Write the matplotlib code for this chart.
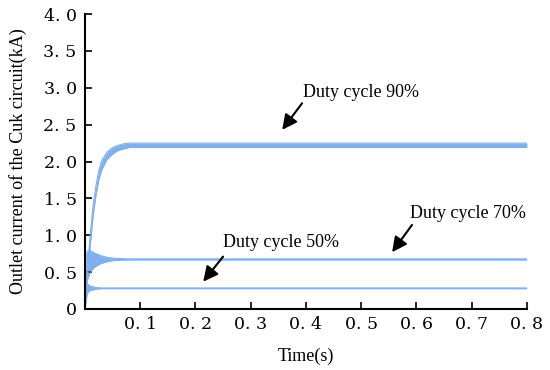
import matplotlib.pyplot as plt

# time points (s) and upper / lower envelopes of the current ripple (kA)
t90 = [0, 0.003, 0.006, 0.01, 0.015, 0.02, 0.025, 0.03, 0.04, 0.05, 0.06, 0.07, 0.08, 0.1, 0.8]
up90 = [0, 0.35, 0.7, 1.05, 1.42, 1.68, 1.88, 2.01, 2.13, 2.19, 2.22, 2.24, 2.25, 2.25, 2.25]
lo90 = [0, 0.25, 0.55, 0.9, 1.28, 1.55, 1.75, 1.88, 2.03, 2.1, 2.15, 2.17, 2.19, 2.19, 2.19]

t70 = [0, 0.002, 0.004, 0.007, 0.01, 0.015, 0.02, 0.03, 0.04, 0.05, 0.06, 0.08, 0.8]
up70 = [0, 0.72, 0.78, 0.8, 0.79, 0.77, 0.75, 0.72, 0.70, 0.69, 0.685, 0.68, 0.68]
lo70 = [0, 0.2, 0.38, 0.45, 0.5, 0.55, 0.58, 0.62, 0.64, 0.655, 0.66, 0.665, 0.665]

t50 = [0, 0.002, 0.004, 0.007, 0.01, 0.015, 0.02, 0.03, 0.8]
up50 = [0, 0.5, 0.35, 0.32, 0.31, 0.30, 0.29, 0.285, 0.285]
lo50 = [0, 0.1, 0.2, 0.24, 0.25, 0.26, 0.27, 0.275, 0.275]

# labels: text position, arrow tail, arrow head
labels = ['Duty cycle 90%', 'Duty cycle 70%', 'Duty cycle 50%']
text_xy = [(0.395, 2.94), (0.588, 1.30), (0.25, 0.895)]
tail_xy = [(0.393, 2.79), (0.592, 1.14), (0.25, 0.71)]
head_xy = [(0.357, 2.43), (0.556, 0.77), (0.214, 0.37)]

xticks = [0.1, 0.2, 0.3, 0.4, 0.5, 0.6, 0.7, 0.8]
xticklabels = ['0. 1', '0. 2', '0. 3', '0. 4', '0. 5', '0. 6', '0. 7', '0. 8']
yticks = [0, 0.5, 1.0, 1.5, 2.0, 2.5, 3.0, 3.5, 4.0]
yticklabels = ['0', '0. 5', '1. 0', '1. 5', '2. 0', '2. 5', '3. 0', '3. 5', '4. 0']

plt.rcParams.update({"font.family": "serif",
                     "font.serif": ["Liberation Serif", "DejaVu Serif"]})

fig = plt.figure(figsize=(5.5, 3.7), dpi=100)
ax = fig.add_axes([0.1545, 0.165, 0.8035, 0.797])

col = '#7fb0ea'
for t, up, lo in [(t90, up90, lo90), (t70, up70, lo70), (t50, up50, lo50)]:
    ax.fill_between(t, lo, up, color=col, lw=0)
    ax.plot(t, up, c=col, lw=0.8)
    ax.plot(t, lo, c=col, lw=0.8)

arrow = dict(arrowstyle='-|>,head_length=0.9,head_width=0.45', color='k',
             lw=1.5, shrinkA=0, shrinkB=0)
for lab, txy, a, b in zip(labels, text_xy, tail_xy, head_xy):
    ax.annotate('', xy=b, xytext=a, arrowprops=arrow)
    ax.text(*txy, lab, fontsize=13, va='center', ha='left')

ax.set_xlim(0, 0.8)
ax.set_ylim(0, 4.0)
ax.set_xticks(xticks)
ax.set_xticklabels(xticklabels, fontsize=12.5, family='DejaVu Serif')
ax.set_yticks(yticks)
ax.set_yticklabels(yticklabels, fontsize=12.5, family='DejaVu Serif')
ax.set_xlabel('Time(s)', fontsize=13, labelpad=11)
ax.set_ylabel('Outlet current of the Cuk circuit(kA)', fontsize=13, labelpad=12)

for s in ['top', 'right']:
    ax.spines[s].set_visible(False)
for s in ['left', 'bottom']:
    ax.spines[s].set_linewidth(1.5)
ax.tick_params(which='both', direction='in', length=5, width=1.2)
ax.tick_params(axis='x', pad=5)
ax.tick_params(axis='y', pad=6)

fig.savefig('out.png', dpi=100)
plt.close()
